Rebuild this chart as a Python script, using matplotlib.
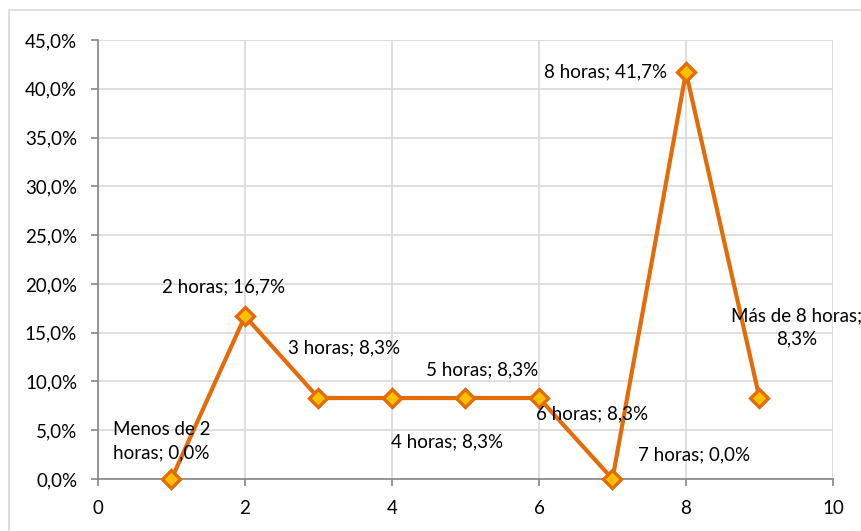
import matplotlib
matplotlib.use("Agg")
import matplotlib.pyplot as plt
from matplotlib.patches import Rectangle
from matplotlib.ticker import FuncFormatter

# data
x_vals = [1, 2, 3, 4, 5, 6, 7, 8, 9]
pct = [0.0, 16.7, 8.3, 8.3, 8.3, 8.3, 0.0, 41.7, 8.3]
labels = ["Menos de 2\nhoras; 0,0%", "2 horas; 16,7%", "3 horas; 8,3%",
          "4 horas; 8,3%", "5 horas; 8,3%", "6 horas; 8,3%",
          "7 horas; 0,0%", "8 horas; 41,7%", "Más de 8 horas;\n8,3%"]
# label offsets in pixels (dx, dy)
offsets = [(-10, 38), (-21, 29), (26, 50), (55, -44), (17, 28),
           (53, -16), (82, 24), (-80, 0), (37, 71)]

plt.rcParams['font.family'] = ['Lato', 'DejaVu Sans']
FS = 13.5

fig = plt.figure(figsize=(8.62, 5.31), dpi=100)
fig.patches.append(Rectangle((9/862, -0.05), 1.0, 1 - 10/531 + 0.05,
                             transform=fig.transFigure, fill=False,
                             edgecolor='#D9D9D9', linewidth=1.2))
ax = fig.add_axes([98/862, 1 - 479/531, (833 - 98)/862, (479 - 40)/531])

ax.plot(x_vals, pct, color='#E36C09', linewidth=3, marker='D', markersize=9,
        markerfacecolor='#FFC000', markeredgecolor='#E36C09',
        markeredgewidth=2.4, zorder=3, clip_on=False)

for xv, yv, lab, (dx, dy) in zip(x_vals, pct, labels, offsets):
    ax.annotate(lab, (xv, yv), xytext=(dx, dy), textcoords='offset pixels',
                ha='center', va='center', fontsize=FS, annotation_clip=False,
                linespacing=1.45, zorder=4)

ax.set_xlim(0, 10)
ax.set_ylim(0, 45)
ax.set_xticks(range(0, 11, 2))
ax.set_yticks(range(0, 46, 5))
ax.yaxis.set_major_formatter(FuncFormatter(lambda v, p: f"{v:.1f}%".replace('.', ',')))
ax.grid(True, color='#D9D9D9', linewidth=1.2)
ax.set_axisbelow(True)
for s in ['top', 'right']:
    ax.spines[s].set_visible(False)
for s in ['left', 'bottom']:
    ax.spines[s].set_color('#868686')
    ax.spines[s].set_linewidth(1.2)
ax.tick_params(colors='#868686', labelcolor='black', labelsize=FS,
               length=5, width=1.2)
ax.tick_params(axis='y', pad=10)
ax.tick_params(axis='x', pad=10)

fig.savefig("out.png", dpi=100)
